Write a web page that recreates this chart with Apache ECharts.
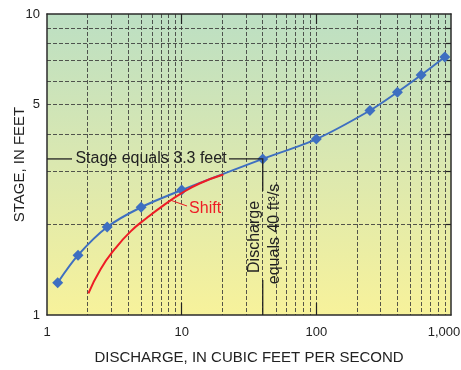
<!DOCTYPE html>
<html><head><meta charset="utf-8">
<script src="https://cdn.jsdelivr.net/npm/echarts@6/dist/echarts.min.js"></script>
<style>html,body{margin:0;padding:0;background:#fff}#c{width:461px;height:370px}</style>
</head><body><div id="c"></div>
<script>
// Rating curve (blue, with diamond markers)
const ratingQ = [1.2, 1.7, 2.8, 5, 10, 40, 100, 250, 400, 600, 900];
const ratingStage = [1.28, 1.58, 1.96, 2.28, 2.6, 3.3, 3.84, 4.78, 5.5, 6.27, 7.2];
// Shifted curve (red)
const shiftQ = [2.03, 2.5, 3.2, 4.2, 5.5, 7.2, 10, 13.7, 20.4];
const shiftStage = [1.18, 1.42, 1.66, 1.90, 2.10, 2.30, 2.54, 2.74, 2.93];
// Tick labels
const xTickLabels = [1, 10, 100, 1000];
const yTickLabels = [1, 5, 10];
const xMajorTicks = [10, 100];
const xGridValues = [2,3,4,5,6,7,8,9,10,20,30,40,50,60,70,80,90,100,200,300,400,500,600,700,800,900];
const yGridValues = [2,3,4,5,6,7,8,9];

const FONT = '"Liberation Sans", Arial, sans-serif';
const chart = echarts.init(document.getElementById('c'));
const gridDash = {show: true, lineStyle: {color: '#3a3a3a', width: 1, type: [4, 2], opacity: 0.85}};
const edge = {show: true, lineStyle: {color: '#2b2b2b', width: 1.5}};

const option = {
  animation: false,
  textStyle: {fontFamily: FONT},
  grid: {left: 47, right: 10, top: 14, bottom: 55, containLabel: false, outerBoundsMode: 'none',
    show: true, borderWidth: 0,
    backgroundColor: new echarts.graphic.LinearGradient(0, 0, 0, 1, [
      {offset: 0, color: '#bcdfc3'}, {offset: 0.5, color: '#dbe8b0'}, {offset: 1, color: '#f7f29b'}])},
  xAxis: [
    {type: 'log', logBase: 10, min: 1, max: 1000, position: 'bottom',
     name: 'DISCHARGE, IN CUBIC FEET PER SECOND', nameLocation: 'middle', nameGap: 35, nameMoveOverlap: false,
     nameTextStyle: {fontSize: 15, color: '#222', fontFamily: FONT},
     axisLine: edge,
     axisTick: {show: true, inside: true, length: 12, customValues: xMajorTicks, lineStyle: {color: '#222', width: 1.2}},
     axisLabel: {customValues: xTickLabels, margin: 11, fontSize: 13, color: '#222', fontFamily: FONT,
       formatter: v => v >= 1000 ? '{r|' + v.toLocaleString('en-US') + '}' : String(v),
       rich: {r: {fontSize: 13, color: '#222', fontFamily: FONT, padding: [0, 14, 0, 0]}}},
     splitLine: {show: false}},
    {type: 'log', logBase: 10, min: 1, max: 1000, position: 'top',
     axisLine: edge,
     axisTick: {show: true, inside: true, length: 10, customValues: xMajorTicks, lineStyle: {color: '#222', width: 1.2}},
     axisLabel: {show: false}, splitLine: {show: false}},
    {type: 'log', logBase: 10, min: 1, max: 1000, position: 'bottom',
     axisLine: {show: false}, axisTick: {show: false, customValues: xGridValues},
     axisLabel: {show: false}, splitLine: gridDash}
  ],
  yAxis: [
    {type: 'log', logBase: 10, min: 1, max: 10, position: 'left',
     name: 'STAGE, IN FEET', nameLocation: 'middle', nameGap: 20, nameMoveOverlap: false,
     nameTextStyle: {fontSize: 15, color: '#222', fontFamily: FONT},
     axisLine: edge, axisTick: {show: false},
     axisLabel: {customValues: yTickLabels, margin: 7, fontSize: 13, color: '#222', fontFamily: FONT},
     splitLine: {show: false}},
    {type: 'log', logBase: 10, min: 1, max: 10, position: 'right',
     axisLine: edge,
     axisTick: {show: true, inside: true, length: 5, customValues: yGridValues, lineStyle: {color: '#222', width: 1.2}},
     axisLabel: {show: false}, splitLine: {show: false}},
    {type: 'log', logBase: 10, min: 1, max: 10, position: 'left',
     axisLine: {show: false}, axisTick: {show: false, customValues: yGridValues},
     axisLabel: {show: false}, splitLine: gridDash}
  ],
  series: [
    {type: 'line', xAxisIndex: 0, yAxisIndex: 0, smooth: 0.3, z: 3,
     data: ratingQ.map((q, i) => [q, ratingStage[i]]),
     symbol: 'diamond', symbolSize: 11, itemStyle: {color: '#3e6fc1'},
     lineStyle: {color: '#3e6fc1', width: 2}},
    {type: 'line', xAxisIndex: 0, yAxisIndex: 0, smooth: 0.5, z: 4,
     data: shiftQ.map((q, i) => [q, shiftStage[i]]),
     symbol: 'none', lineStyle: {color: '#ee1c25', width: 2}}
  ]
};
chart.setOption(option);

const P = chart.convertToPixel({xAxisIndex: 0, yAxisIndex: 0}, [40, 3.3]);
const L = chart.convertToPixel({xAxisIndex: 0}, 1);
const B = chart.convertToPixel({yAxisIndex: 0}, 1);
const S = chart.convertToPixel({xAxisIndex: 0, yAxisIndex: 0}, [8.2, 2.41]);
const ink = '#222';
const ts = {fontSize: 16, fill: ink, fontFamily: FONT, align: 'center', verticalAlign: 'middle'};
chart.setOption({graphic: [
  {type: 'line', z: 10, shape: {x1: L, y1: P[1], x2: L + 25, y2: P[1]}, style: {stroke: ink, lineWidth: 1.3}},
  {type: 'text', z: 10, x: L + 104, y: P[1], style: Object.assign({text: 'Stage equals 3.3 feet'}, ts)},
  {type: 'polyline', z: 10, shape: {points: [[L + 182, P[1]], [P[0], P[1]], [P[0], P[1] + 32]]}, style: {stroke: ink, lineWidth: 1.3, fill: null}},
  {type: 'text', z: 10, x: P[0] - 8, y: P[1] + 78, rotation: Math.PI / 2, style: Object.assign({text: 'Discharge'}, ts)},
  {type: 'text', z: 10, x: P[0] + 12, y: P[1] + 75, rotation: Math.PI / 2, style: Object.assign({text: 'equals 40 ft³/s'}, ts)},
  {type: 'line', z: 10, shape: {x1: P[0], y1: P[1] + 121, x2: P[0], y2: B}, style: {stroke: ink, lineWidth: 1.3}},
  {type: 'line', z: 10, shape: {x1: S[0], y1: S[1], x2: S[0] + 17, y2: S[1] + 6}, style: {stroke: '#ee1c25', lineWidth: 1}},
  {type: 'text', z: 10, x: S[0] + 19, y: S[1] + 9, style: {text: 'Shift', fontSize: 16, fill: '#ee1c25', fontFamily: FONT, align: 'left', verticalAlign: 'middle'}}
]});
</script></body></html>
